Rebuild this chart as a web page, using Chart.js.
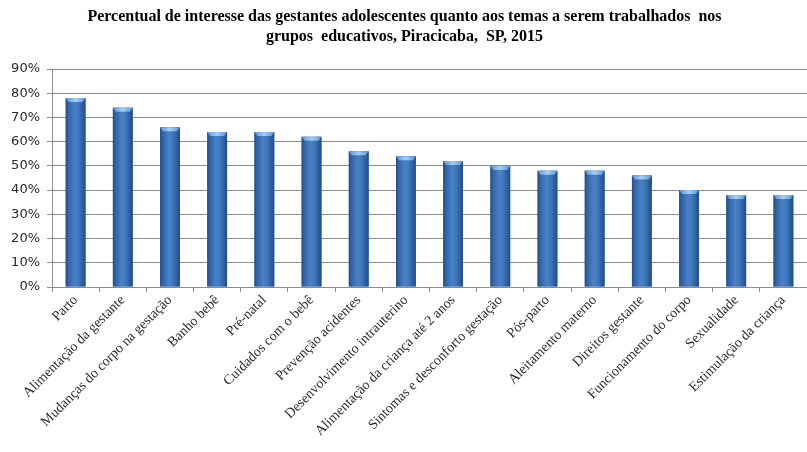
<!DOCTYPE html>
<html>
<head>
<meta charset="utf-8">
<script src="https://cdn.jsdelivr.net/npm/chart.js@4/dist/chart.umd.min.js"></script>
<style>
  html, body { margin: 0; padding: 0; background: #fff; }
  #wrap { width: 807px; height: 452px; }
</style>
</head>
<body>
<div id="wrap"><canvas id="chart"></canvas></div>
<script>
var temas = [
  'Parto', 'Alimentação da gestante', 'Mudanças do corpo na gestação', 'Banho bebê',
  'Pré-natal', 'Cuidados com o bebê', 'Prevenção acidentes', 'Desenvolvimento intrauterino',
  'Alimentação da criança até 2 anos', 'Sintomas e desconforto gestação', 'Pós-parto',
  'Aleitamento materno', 'Direitos gestante', 'Funcionamento do corpo', 'Sexualidade',
  'Estimulação da criança'
];
var percentual = [78, 74, 66, 64, 64, 62, 56, 54, 52, 50, 48, 48, 46, 40, 38, 38];
var titulo = [
  'Percentual de interesse das gestantes adolescentes quanto aos temas a serem trabalhados  nos',
  'grupos  educativos, Piracicaba,  SP, 2015'
];

// cylinder-ish shading over each bar, like the office chart
var barShade = {
  id: 'barShade',
  afterDatasetsDraw: function(chart) {
    var ctx = chart.ctx;
    ctx.save();
    chart.getDatasetMeta(0).data.forEach(function(bar) {
      var l = bar.x - bar.width / 2, w = bar.width;
      var g = ctx.createLinearGradient(l, 0, l + w, 0);
      g.addColorStop(0, '#234f8a');
      g.addColorStop(0.15, '#3166a8');
      g.addColorStop(0.45, '#4a82c8');
      g.addColorStop(0.65, '#3f77bd');
      g.addColorStop(1, '#224c86');
      ctx.fillStyle = g;
      ctx.fillRect(l, bar.y, w, bar.base - bar.y);

      var c = ctx.createLinearGradient(l, 0, l + w, 0);
      c.addColorStop(0, '#5a93d6');
      c.addColorStop(0.5, '#a4cff2');
      c.addColorStop(1, '#5a93d6');
      ctx.fillStyle = c;
      ctx.beginPath();
      ctx.moveTo(l, bar.y);
      ctx.lineTo(l + w, bar.y);
      ctx.lineTo(l + w - 3, bar.y + 4);
      ctx.lineTo(l + 3, bar.y + 4);
      ctx.closePath();
      ctx.fill();
    });
    ctx.restore();
  }
};

new Chart(document.getElementById('chart'), {
  type: 'bar',
  data: {
    labels: temas,
    datasets: [{
      data: percentual,
      backgroundColor: '#3a6fb5',
      borderWidth: 0,
      barPercentage: 0.6,
      categoryPercentage: 0.7
    }]
  },
  options: {
    responsive: true,
    maintainAspectRatio: false,
    animation: false,
    layout: { padding: { left: 2, right: 0, top: 0, bottom: 0 } },
    plugins: {
      legend: { display: false },
      tooltip: { enabled: false },
      title: {
        display: true,
        text: titulo,
        color: '#000',
        font: { family: 'Liberation Serif', size: 16, weight: 'bold', lineHeight: 1.25 },
        padding: { top: 7, bottom: 22 }
      }
    },
    scales: {
      x: {
        grid: {
          offset: true, drawOnChartArea: false, drawTicks: true,
          tickLength: 5, color: '#8c8c8c'
        },
        border: { color: '#8c8c8c' },
        ticks: {
          maxRotation: 45, minRotation: 45, autoSkip: false,
          color: '#2b2b2b', padding: 0,
          font: { family: 'Liberation Serif', size: 14 }
        },
        afterFit: function(s) { s.height = 165; }
      },
      y: {
        min: 0, max: 90,
        grid: { color: '#8c8c8c', tickLength: 5 },
        border: { color: '#8c8c8c' },
        ticks: {
          stepSize: 10, color: '#2b2b2b', padding: 7,
          font: { family: 'DejaVu Sans', size: 13 },
          callback: function(v) { return v + '%'; }
        },
        afterFit: function(s) { s.width = 50; }
      }
    }
  },
  plugins: [barShade]
});
</script>
</body>
</html>
